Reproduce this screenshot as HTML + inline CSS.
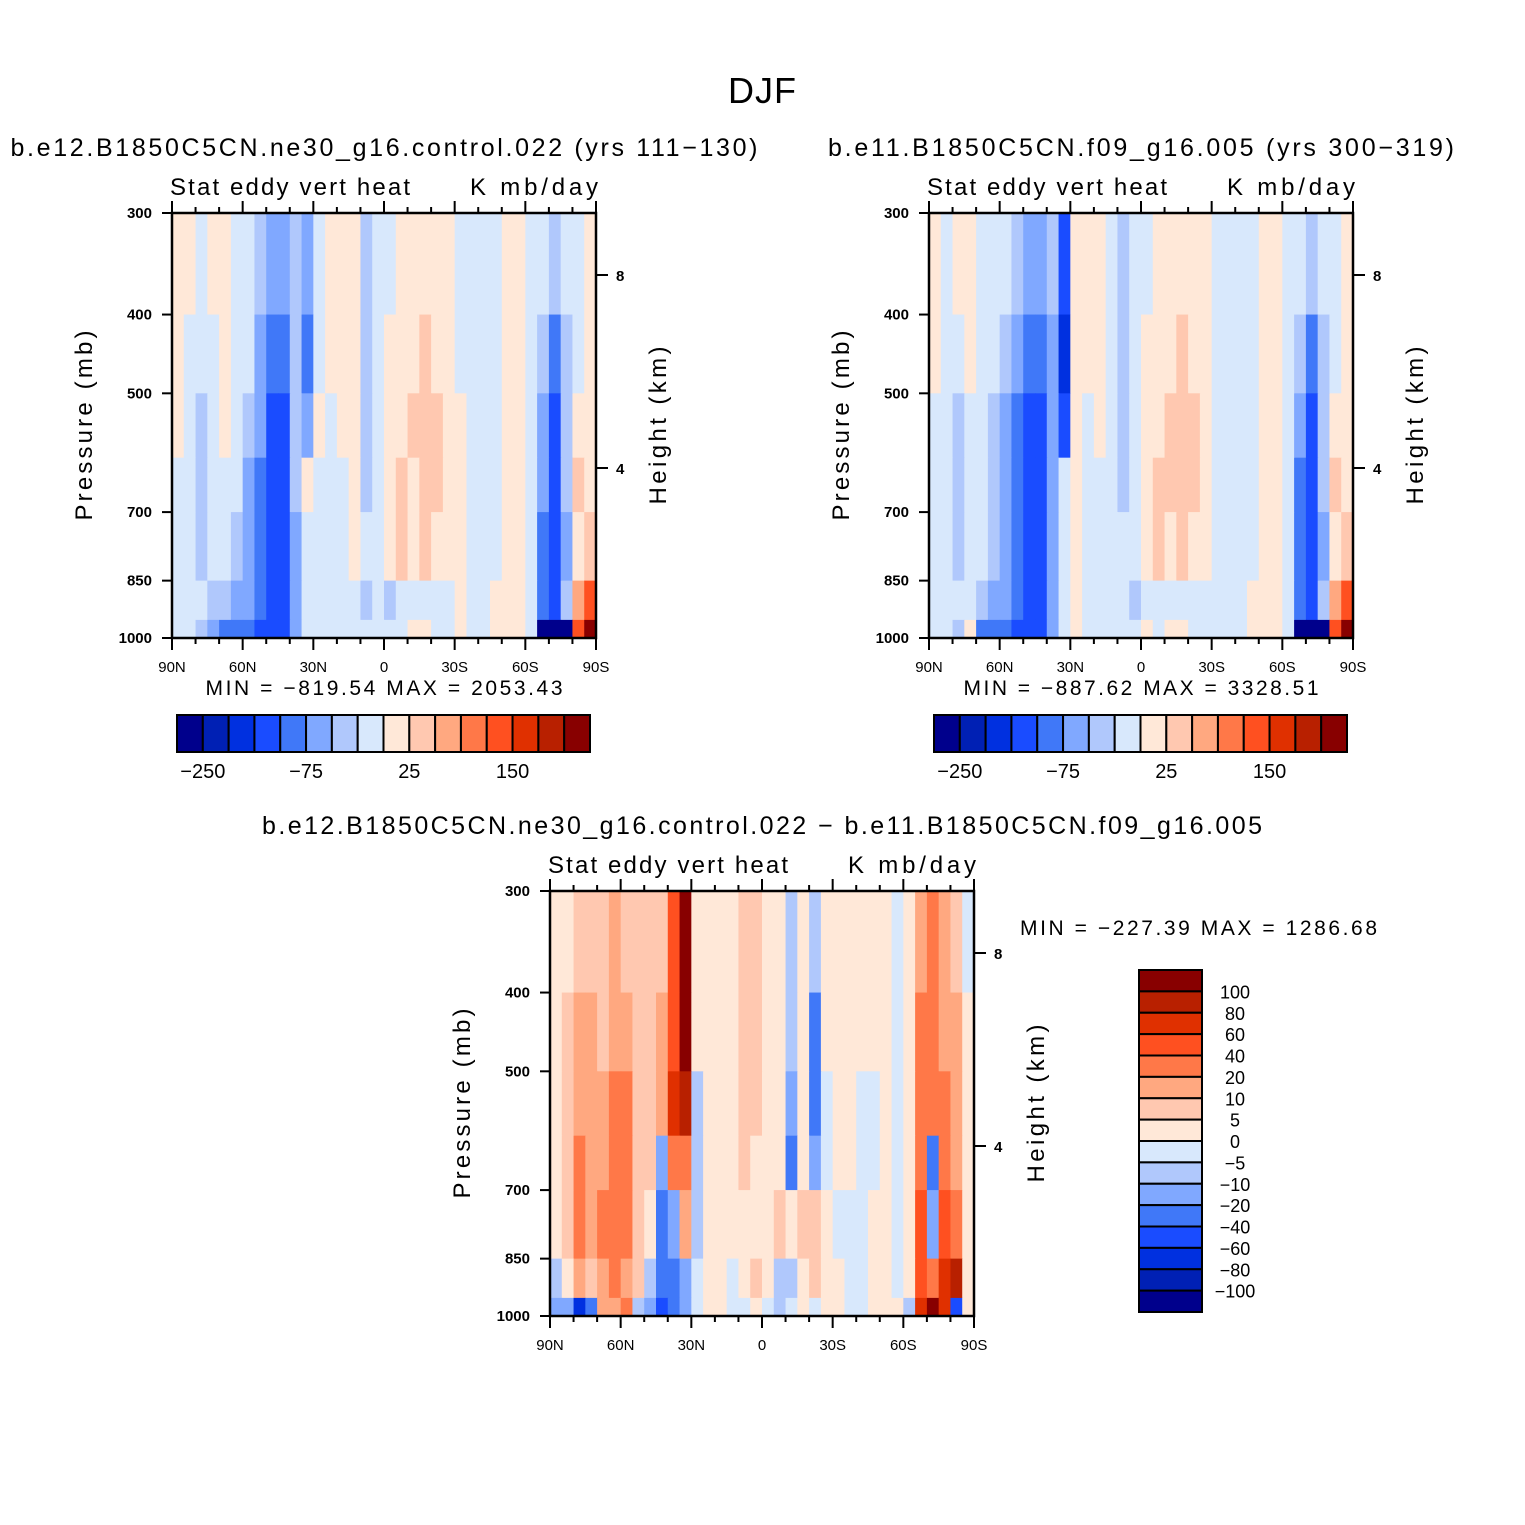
<!DOCTYPE html>
<html><head><meta charset="utf-8"><style>
html,body{margin:0;padding:0;background:#fff;}
svg{display:block;font-family:"Liberation Sans",sans-serif;}
</style></head><body>
<svg id="fig" width="1525" height="1525" viewBox="0 0 1525 1525" xmlns="http://www.w3.org/2000/svg">
<rect width="1525" height="1525" fill="#fff"/>
<text x="762" y="103" font-size="36" text-anchor="middle" textLength="68">DJF</text>
</svg>
<script>
// ---------- data ----------
const latLabels = ["90N","60N","30N","0","30S","60S","90S"];
const pressureTicks = [300,400,500,700,850,1000];
const heightTicks = [8,4];
const rowEdges = [300,400,500,600,700,850,950,1000];
const levelsTop = [-250,-200,-150,-100,-75,-50,-25,0,25,50,75,100,150,200,250];
const levelsDiff = [-100,-80,-60,-40,-20,-10,-5,0,5,10,20,40,60,80,100];
const cbTopLabels = ["−250","−75","25","150"];
const cbTopLabelIdx = [0,4,8,12];
const cbDiffLabels = ["100","80","60","40","20","10","5","0","−5","−10","−20","−40","−60","−80","−100"];
const colors = ["#00008c","#0020b4","#0030e0","#1a4cff","#4078f8","#80a8ff","#b0c8fc","#d8e8fc","#ffe8d8","#ffc8b0","#ffa880","#ff7848","#ff5020","#e03000","#b82000","#880000"];

const panel1Values = [
[10,10,-10,10,10,-10,-10,-40,-60,-60,-40,-60,-10,10,10,10,-40,-10,-10,10,10,10,10,10,-10,-10,-10,-10,10,10,-10,-10,-40,-10,-10,10],
[10,-10,-10,-10,10,-10,-10,-60,-90,-90,-40,-90,-10,10,10,10,-40,-10,10,10,10,40,10,10,-10,-10,-10,-10,10,10,-10,-40,-90,-40,-10,10],
[10,-10,-40,-10,10,-10,-40,-60,-120,-120,-40,-60,10,-10,10,10,-40,-10,10,10,40,40,40,10,10,-10,-10,-10,10,10,-10,-60,-120,-40,10,10],
[-10,-10,-40,-10,-10,-10,-60,-90,-120,-120,-40,10,-10,-10,-10,10,-40,-10,10,40,10,40,40,10,10,-10,-10,-10,10,10,-10,-60,-120,-40,40,10],
[-10,-10,-40,-10,-10,-40,-60,-90,-120,-120,-60,-10,-10,-10,-10,10,-10,-10,10,40,10,40,10,10,10,-10,-10,-10,10,10,-10,-90,-120,-60,10,40],
[-10,-10,-10,-40,-40,-60,-60,-90,-120,-120,-60,-10,-10,-10,-10,-10,-40,-10,-40,-10,-10,-10,-10,-10,10,-10,-10,10,10,10,-10,-90,-120,-40,60,120],
[-10,-10,-40,-60,-90,-90,-90,-120,-120,-120,-60,-10,-10,-10,-10,-10,-10,-10,-10,-10,10,10,-10,-10,10,-10,-10,10,10,10,-10,-300,-300,-300,120,300]];
const panel2Values = [
[10,-10,10,10,-10,-10,-10,-40,-60,-60,-40,-120,10,10,10,-10,-40,-10,-10,10,10,10,10,10,-10,-10,-10,-10,10,10,-10,-10,-40,-10,-10,10],
[10,-10,-10,10,-10,-10,-40,-60,-90,-90,-60,-180,10,10,10,-10,-40,-10,10,10,10,40,10,10,-10,-10,-10,-10,10,10,-10,-40,-90,-40,-10,10],
[-10,-10,-40,-10,-10,-40,-60,-90,-120,-120,-60,-120,10,-10,10,-10,-40,-10,10,10,40,40,40,10,-10,-10,-10,-10,10,10,-10,-60,-120,-40,10,10],
[-10,-10,-40,-10,-10,-40,-60,-90,-120,-120,-60,-10,10,-10,-10,-10,-40,-10,10,40,40,40,40,10,-10,-10,-10,-10,10,10,-10,-90,-120,-40,40,10],
[-10,-10,-40,-10,-10,-40,-60,-90,-120,-120,-60,-10,10,-10,-10,-10,-10,-10,10,40,10,40,10,10,-10,-10,-10,-10,10,10,-10,-90,-120,-60,10,40],
[-10,-10,-10,-10,-40,-60,-60,-90,-120,-120,-60,-10,10,-10,-10,-10,-10,-40,-10,-10,-10,-10,-10,-10,-10,-10,-10,10,10,10,-10,-90,-120,-40,60,120],
[-10,-10,-40,10,-90,-90,-90,-120,-120,-120,-60,-10,10,-10,-10,-10,-10,-10,10,-10,10,10,-10,-10,-10,-10,-10,10,10,10,-10,-300,-300,-300,120,300]];
const diffValues = [
[2,2,7,7,7,15,7,7,7,7,50,150,2,2,2,2,7,7,2,2,-7,2,-7,2,2,2,2,2,2,-2,2,15,30,15,7,-2],
[2,7,15,15,7,15,15,7,7,15,50,150,2,2,2,2,7,7,2,2,-7,2,-30,2,2,2,2,2,2,-2,2,30,30,15,15,2],
[2,7,15,15,15,30,30,7,7,15,70,90,-7,2,2,2,7,7,2,2,-15,2,-30,-2,2,2,-2,-2,2,-2,2,30,30,30,15,2],
[2,7,30,15,15,30,30,7,7,-15,30,30,-7,2,2,2,7,2,2,2,-30,2,-15,-2,2,2,-2,-2,2,-2,2,30,-30,30,15,2],
[2,7,30,15,30,30,30,7,2,-30,-15,15,-7,2,2,2,2,2,2,7,2,7,7,2,-2,-2,-2,2,2,-2,2,50,-15,50,30,2],
[-7,2,15,7,15,30,15,7,-7,-30,-30,-15,-2,2,2,-2,2,7,2,-7,-7,2,7,2,2,-2,-2,2,2,-2,2,50,30,70,90,2],
[-15,-15,-70,-30,15,15,30,-7,-15,-50,-30,-15,-2,2,2,-2,-2,2,-2,-7,-2,2,-2,2,2,-2,-2,2,2,2,-7,70,150,70,-50,2]];

// ---------- helpers ----------
const NS="http://www.w3.org/2000/svg";
const svg=document.getElementById('fig');
function mk(tag,attrs,parent){const e=document.createElementNS(NS,tag);for(const k in attrs)e.setAttribute(k,attrs[k]);(parent||svg).appendChild(e);return e;}
function txt(s,attrs,parent){const e=mk('text',attrs,parent);e.textContent=s;return e;}
function levelIndex(v,lv){let i=0;while(i<lv.length&&v>=lv[i])i++;return i;}

function drawPanel(px,py,vals,levels,title,titleX,titleLen,minmax,mmX,mmY,mmAnchor,mmLen,name){
  const W=424,H=425;
  const g=mk('g',{});
  
  
  const xs=lat=>px+(90-lat)/180*W;
  const ys=p=>py+Math.log(p/300)/Math.log(1000/300)*H;
  const yh=h=>py+448-48.25*h;
  const nc=vals[0].length, dLat=180/nc;
  const cells=mk('g',{},g);
  
  
  vals.forEach((row,r)=>{
    row.forEach((v,c)=>{
      const x0=xs(90-c*dLat),x1=xs(90-(c+1)*dLat);
      const y0=ys(rowEdges[r]),y1=ys(rowEdges[r+1]);
      const rc=mk('rect',{x:x0.toFixed(2),y:y0.toFixed(2),width:(x1-x0+0.6).toFixed(2),height:(y1-y0+0.6).toFixed(2),fill:colors[levelIndex(v,levels)]},cells);
      
      
    });
  });
  const fr=mk('rect',{x:px,y:py,width:W,height:H,fill:'none',stroke:'#000','stroke-width':2.5},g);
  
  
  for(let lat=90;lat>=-90;lat-=10){
    const x=xs(lat),maj=(lat%30===0),L=maj?12:6;
    mk('line',{x1:x,x2:x,y1:py+H,y2:py+H+L,stroke:'#000','stroke-width':2},g);
    mk('line',{x1:x,x2:x,y1:py,y2:py-L,stroke:'#000','stroke-width':2},g);
  }
  latLabels.forEach((s,i)=>{
    const t=txt(s,{x:xs(90-i*30),y:py+H+34,'font-size':15,'text-anchor':'middle'},g);
    
    
  });
  pressureTicks.forEach(p=>{
    const y=ys(p);
    mk('line',{x1:px,x2:px-10,y1:y,y2:y,stroke:'#000','stroke-width':2},g);
    const t=txt(String(p),{x:px-20,y:y+5,'font-size':15,'text-anchor':'end','font-weight':'bold'},g);
    
    
  });
  heightTicks.forEach(h=>{
    const y=yh(h);
    mk('line',{x1:px+W,x2:px+W+12,y1:y,y2:y,stroke:'#000','stroke-width':2},g);
    const t=txt(String(h),{x:px+W+20,y:y+6,'font-size':15,'font-weight':'bold'},g);
    
    
  });
  const yt=txt('Pressure (mb)',{x:0,y:0,'font-size':24,'text-anchor':'middle',transform:`translate(${px-80},${py+H/2}) rotate(-90)`,textLength:190},g);
  
  
  const ht=txt('Height (km)',{x:0,y:0,'font-size':24,'text-anchor':'middle',transform:`translate(${px+W+70},${py+H/2}) rotate(-90)`,textLength:158},g);
  
  
  const l1=txt('Stat eddy vert heat',{x:px-2,y:py-18,'font-size':24,textLength:240},g);
  
  
  const l2=txt('K mb/day',{x:px+W+2,y:py-18,'font-size':24,'text-anchor':'end',textLength:128},g);
  
  
  const tt=txt(title,{x:titleX,y:py-57,'font-size':25,'text-anchor':'middle',textLength:titleLen},g);
  
  
  const mm=txt(minmax,{x:mmX,y:mmY,'font-size':21,'text-anchor':mmAnchor,textLength:mmLen},g);
  
  
}

function hColorbar(x0,y0,name){
  const g=mk('g',{});
  
  
  const w=413/16;
  colors.forEach((c,i)=>{
    const r=mk('rect',{x:x0+i*w,y:y0,width:w,height:37,fill:c,stroke:'#000','stroke-width':2},g);
    
    
  });
  cbTopLabels.forEach((s,i)=>{
    const t=txt(s,{x:x0+(cbTopLabelIdx[i]+1)*w,y:y0+63,'font-size':20,'text-anchor':'middle'},g);
    
    
  });
}

drawPanel(172,213,panel1Values,levelsTop,'b.e12.B1850C5CN.ne30_g16.control.022 (yrs 111−130)',384,747,'MIN = −819.54   MAX = 2053.43',384,695,'middle',357,'panel-control-022');
drawPanel(929,213,panel2Values,levelsTop,'b.e11.B1850C5CN.f09_g16.005 (yrs 300−319)',1141,626,'MIN = −887.62   MAX = 3328.51',1141,695,'middle',355,'panel-f09-005');
drawPanel(550,891,diffValues,levelsDiff,'b.e12.B1850C5CN.ne30_g16.control.022 − b.e11.B1850C5CN.f09_g16.005',762,1000,'MIN = −227.39   MAX = 1286.68',1020,935,'start',357,'panel-difference');
hColorbar(177,715,'colorbar-top-left');
hColorbar(934,715,'colorbar-top-right');

(function(){
  const g=mk('g',{});
  
  
  const x0=1139,y0=970,h=342/16;
  for(let i=0;i<16;i++){
    const r=mk('rect',{x:x0,y:y0+i*h,width:63,height:h,fill:colors[15-i],stroke:'#000','stroke-width':2},g);
    
    
  }
  cbDiffLabels.forEach((s,i)=>{
    const t=txt(s,{x:1235,y:y0+(i+1)*h+7,'font-size':18,'text-anchor':'middle'},g);
    
    
  });
})();
</script>
</body></html>
